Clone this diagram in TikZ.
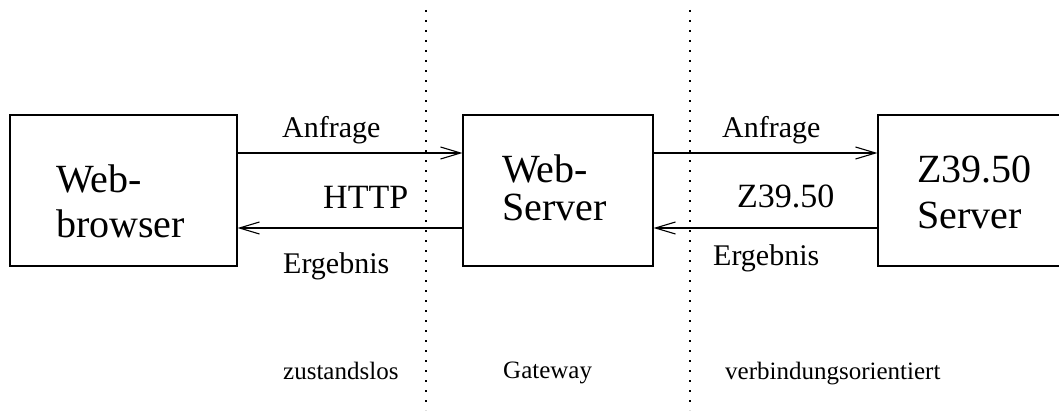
\documentclass[tikz,border=0pt]{standalone}
\usepackage{fontspec}
\setmainfont{Liberation Serif}
\usetikzlibrary{arrows.meta}

\tikzset{
  box/.style={draw, line width=1.1pt, minimum height=151pt, inner sep=0pt},
  conn/.style={line width=1.1pt, -{Straight Barb[length=20pt,width=12pt,line width=1.1pt]}},
  sep/.style={line width=1.3pt, dash pattern=on 2pt off 8pt},
  big/.style={anchor=base west, align=left, inner sep=0pt},
  lbl/.style={anchor=base west, inner sep=0pt, font=\fontsize{30}{36}\selectfont},
  proto/.style={anchor=base west, inner sep=0pt, font=\fontsize{34}{40}\selectfont},
  zone/.style={anchor=base west, inner sep=0pt, font=\fontsize{25}{30}\selectfont},
}

\begin{document}
\begin{tikzpicture}[x=1pt, y=-1pt]
  \useasboundingbox (0,0) rectangle (1059,412);

  % boxes
  \node[box, minimum width=227pt] (WB) at (123.5,190.5){};
  \node[box, minimum width=190pt] (WS) at (558,190.5){};
  \node[box, minimum width=230pt] (ZS) at (993,190.5){};

  % base anchor sits on the last line
  \node[big, font=\fontsize{40}{45}\selectfont] (WBtext) at (56,237){Web-\\browser};
  \node[big, font=\fontsize{40}{38}\selectfont] (WStext) at (502,220){Web-\\Server};
  \node[big, font=\fontsize{40}{46}\selectfont] (ZStext) at (917,228){Z39.50\\Server};

  % zone separators
  \coordinate (S1top) at (426,10);
  \coordinate (S1bot) at (426,410);
  \coordinate (S2top) at (690,10);
  \coordinate (S2bot) at (690,410);
  \draw[sep] (S1top) -- (S1bot);
  \draw[sep] (S2top) -- (S2bot);

  % requests and results
  \draw[conn] ([yshift=37.5pt]WB.east) -- ([yshift=37.5pt]WS.west);
  \draw[conn] ([yshift=-37.5pt]WS.west) -- ([yshift=-37.5pt]WB.east);
  \draw[conn] ([yshift=37.5pt]WS.east) -- ([yshift=37.5pt]ZS.west);
  \draw[conn] ([yshift=-37.5pt]ZS.west) -- ([yshift=-37.5pt]WS.east);

  \node[lbl] (req1) at (282,137){Anfrage};
  \node[proto] (http) at (323,208){HTTP};
  \node[lbl] (res1) at (283,273){Ergebnis};
  \node[lbl] (req2) at (722,137){Anfrage};
  \node[proto] (z3950) at (737,207){Z39.50};
  \node[lbl] (res2) at (713,265){Ergebnis};

  % zone names
  \node[zone] (stateless) at (283,379){zustandslos};
  \node[zone] (gateway) at (503,378){Gateway};
  \node[zone] (connected) at (725,379){verbindungsorientiert};
\end{tikzpicture}
\end{document}
